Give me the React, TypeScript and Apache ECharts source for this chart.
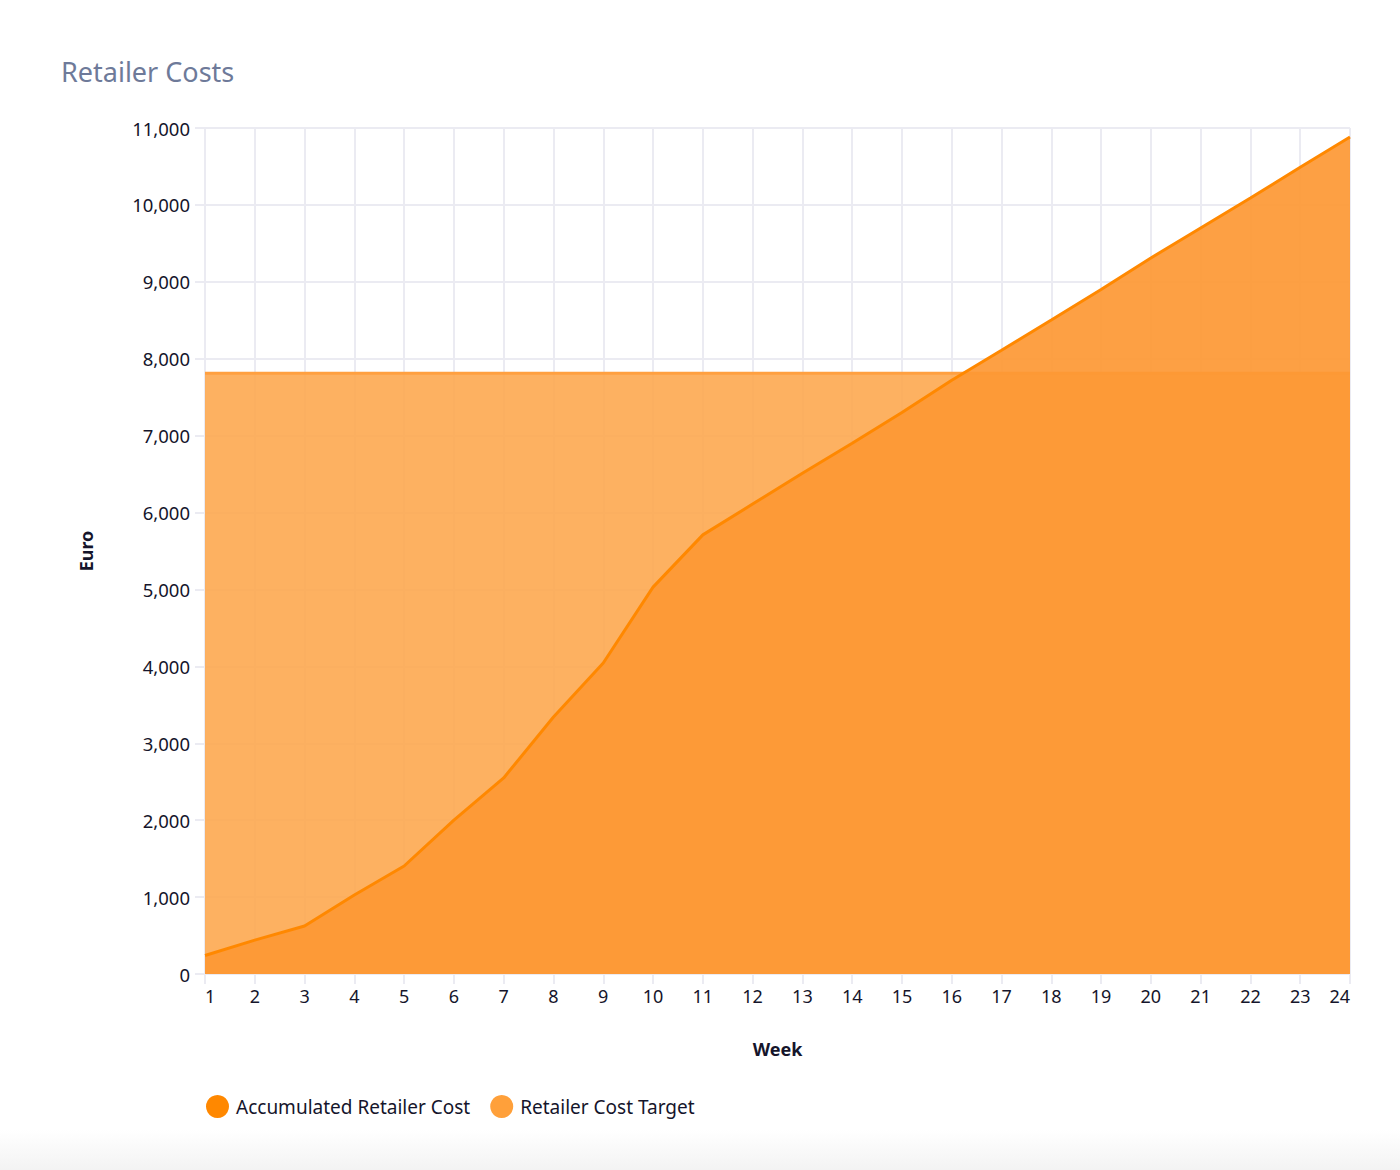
import React, { useEffect, useRef } from "react";
import * as echarts from "echarts";

const weeks = ["1","2","3","4","5","6","7","8","9","10","11","12","13","14","15","16","17","18","19","20","21","22","23","24"];
const accumulatedCost = [240, 440, 624, 1027, 1404, 2002, 2549, 3342, 4044, 5030, 5710, 6110, 6510, 6900, 7300, 7720, 8110, 8504, 8900, 9310, 9700, 10090, 10490, 10883];
const costTarget = [7810, 7810, 7810, 7810, 7810, 7810, 7810, 7810, 7810, 7810, 7810, 7810, 7810, 7810, 7810, 7810, 7810, 7810, 7810, 7810, 7810, 7810, 7810, 7810];
const seriesNames = ["Accumulated Retailer Cost", "Retailer Cost Target"];

const FONT = "'Noto Sans', 'Open Sans', sans-serif";
const GRID = "#ebebf2";
const INK = "#15152b";

export default function App() {
  const ref = useRef<HTMLDivElement>(null);
  useEffect(() => {
    document.body.style.margin = "0";
    const chart = echarts.init(ref.current!, null, { renderer: "svg" });
    chart.setOption({
      animation: false,
      backgroundColor: "#ffffff",
      textStyle: { fontFamily: FONT },
      title: {
        text: "Retailer Costs",
        left: 56,
        top: 53,
        textStyle: { fontFamily: FONT, fontSize: 27, fontWeight: "normal", color: "#6e7a99" },
      },
      graphic: [
        {
          type: "rect",
          left: 0,
          bottom: 0,
          shape: { width: 1400, height: 40 },
          silent: true,
          z: -10,
          style: {
            fill: new echarts.graphic.LinearGradient(0, 0, 0, 1, [
              { offset: 0, color: "#ffffff" },
              { offset: 1, color: "#f3f3f3" },
            ]),
          },
        },
      ],
      legend: {
        left: 201,
        top: 1090,
        itemWidth: 27,
        itemHeight: 23,
        itemGap: 20,
        icon: "circle",
        textStyle: { fontFamily: FONT, fontSize: 19, color: INK },
        data: [
          { name: seriesNames[0], itemStyle: { color: "#ff8800" } },
          { name: seriesNames[1], itemStyle: { color: "#ffa03a" } },
        ],
      },
      grid: { left: 205, right: 50, top: 128, bottom: 196, containLabel: false },
      xAxis: {
        type: "category",
        data: weeks,
        boundaryGap: false,
        name: "Week",
        nameLocation: "middle",
        nameGap: 66,
        nameTextStyle: { fontFamily: FONT, fontSize: 18, fontWeight: "bold", color: INK },
        axisLine: { show: true, lineStyle: { color: GRID, width: 2 } },
        axisTick: { show: true, length: 10, lineStyle: { color: GRID, width: 2 } },
        axisLabel: {
          fontFamily: FONT,
          fontSize: 18,
          color: INK,
          margin: 13,
          interval: 0,
          alignMinLabel: "left",
          alignMaxLabel: "right",
        },
        splitLine: { show: true, lineStyle: { color: GRID, width: 2 } },
      },
      yAxis: {
        type: "value",
        min: 0,
        max: 11000,
        interval: 1000,
        name: "Euro",
        nameLocation: "middle",
        nameGap: 110,
        nameTextStyle: { fontFamily: FONT, fontSize: 18, fontWeight: "bold", color: INK },
        axisLine: { show: false },
        axisTick: { show: true, length: 10, lineStyle: { color: GRID, width: 2 } },
        axisLabel: {
          fontFamily: FONT,
          fontSize: 18.5,
          color: INK,
          margin: 15,
          formatter: (v: number) => v.toLocaleString("en-US"),
        },
        splitLine: { show: true, lineStyle: { color: GRID, width: 2 } },
      },
      series: [
        {
          name: seriesNames[1],
          type: "line",
          data: costTarget,
          symbol: "none",
          z: 2,
          lineStyle: { color: "#ffa040", width: 3 },
          itemStyle: { color: "#ffa03a" },
          areaStyle: { color: "#fda850", opacity: 0.9 },
        },
        {
          name: seriesNames[0],
          type: "line",
          data: accumulatedCost,
          symbol: "none",
          z: 3,
          lineStyle: { color: "#ff8800", width: 3 },
          itemStyle: { color: "#ff8800" },
          areaStyle: { color: "#fd9834", opacity: 0.92 },
        },
      ],
    });
    return () => chart.dispose();
  }, []);
  return <div ref={ref} style={{ width: 1400, height: 1170 }} />;
}
